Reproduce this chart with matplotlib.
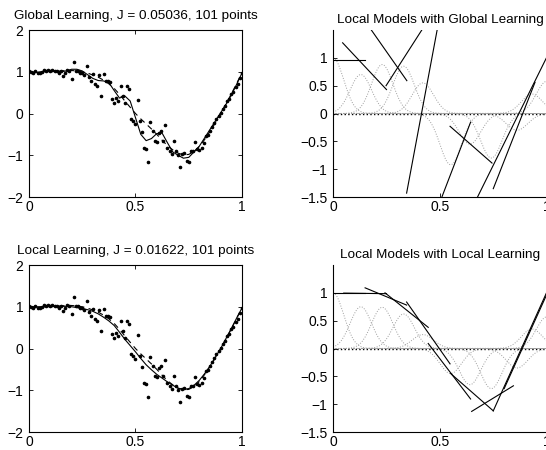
import numpy as np
import matplotlib
matplotlib.use('Agg')
import matplotlib.pyplot as plt

plt.rcParams['font.family'] = ['Liberation Sans', 'DejaVu Sans']

# noisy training data, 101 points on [0, 1]
x_pts = np.linspace(0.0, 1.0, 101)
y_pts = [1.02, 0.99, 0.97, 1.03, 0.97, 0.98, 1.00, 1.04, 1.03, 1.05,
         1.02, 1.04, 1.01, 1.03, 0.98, 1.02, 0.91, 0.97, 1.05, 1.03,
         0.83, 1.24, 1.03, 1.01, 0.96, 0.97, 0.93, 1.13, 0.87, 0.79,
         0.95, 0.70, 0.67, 0.93, 0.43, 0.95, 0.78, 0.79, 0.75, 0.35,
         0.25, 0.36, 0.31, 0.65, 0.43, 0.25, 0.67, 0.59, -0.13, -0.17,
         -0.26, 0.33, -0.17, -0.45, -0.83, -0.85, -1.17, -0.21, -0.41, -0.65,
         -0.69, -0.47, -0.41, -0.65, -0.27, -0.82, -0.89, -0.98, -0.66, -0.90,
         -1.00, -1.28, -0.98, -0.95, -1.13, -1.16, -0.90, -0.89, -0.69, -0.85,
         -0.88, -0.83, -0.70, -0.55, -0.52, -0.42, -0.33, -0.22, -0.14, -0.06,
         0.02, 0.10, 0.18, 0.29, 0.35, 0.46, 0.52, 0.63, 0.71, 0.84,
         0.97]

# curves sampled every 0.025
x_curve = np.linspace(0.0, 1.0, 41)
y_true = [1.00, 0.99, 0.99, 1.00, 1.00, 1.01, 1.02, 1.03, 1.03, 1.02,
          1.00, 0.97, 0.92, 0.87, 0.80, 0.71, 0.60, 0.46, 0.30, 0.15,
          0.00, -0.13, -0.25, -0.37, -0.50, -0.64, -0.77, -0.87, -0.95, -0.99,
          -0.98, -0.91, -0.79, -0.62, -0.43, -0.22, 0.00, 0.23, 0.47, 0.72,
          0.98]
y_global = [1.00, 0.99, 0.99, 1.01, 1.03, 1.02, 1.00, 1.02, 1.06, 1.06,
            1.02, 0.93, 0.84, 0.79, 0.78, 0.74, 0.55, 0.37, 0.42, 0.30,
            -0.10, -0.50, -0.65, -0.60, -0.48, -0.47, -0.70, -0.92, -1.00, -1.07,
            -1.05, -0.92, -0.78, -0.58, -0.38, -0.18, 0.02, 0.22, 0.44, 0.70,
            0.97]
y_local = [1.00, 1.00, 1.00, 1.00, 1.01, 1.01, 1.01, 1.01, 1.00, 0.98,
           0.96, 0.93, 0.89, 0.83, 0.75, 0.66, 0.55, 0.39, 0.22, 0.07,
           -0.08, -0.24, -0.39, -0.51, -0.62, -0.71, -0.80, -0.88, -0.95, -0.98,
           -0.96, -0.88, -0.76, -0.60, -0.42, -0.21, 0.00, 0.24, 0.48, 0.73,
           0.97]

# receptive fields: centres and heights of the dotted bumps
rf_width = 0.05
rf_centers = [0.0, 0.13, 0.23, 0.33, 0.42, 0.55, 0.64, 0.74, 0.86, 0.93, 1.0]
rf_height_global = [1.0, 0.70, 0.88, 0.85, 0.55, -0.92, -0.55, -0.80, -0.30, 0.35, 0.58]
rf_height_local = [1.0, 0.75, 0.74, 0.62, 0.25, -0.45, -0.65, -0.72, -0.35, 0.35, 0.57]

# local linear models, (x0, y0, x1, y1)
seg_global = [(0.0, 0.97, 0.15, 0.97),
              (0.045, 1.27, 0.25, 0.43),
              (0.15, 1.66, 0.345, 0.59),
              (0.248, 0.50, 0.45, 1.71),
              (0.344, -1.43, 0.545, 2.70),
              (0.445, -2.14, 0.643, -0.156),
              (0.547, -0.23, 0.743, -0.89),
              (0.66, -1.62, 1.0, 1.02),
              (0.749, -1.35, 0.944, 0.56)]
seg_local = [(0.0, 1.0, 0.15, 1.0),
             (0.05, 0.995, 0.25, 0.985),
             (0.15, 1.09, 0.344, 0.78),
             (0.243, 1.0, 0.445, 0.38),
             (0.344, 0.835, 0.547, -0.276),
             (0.445, 0.09, 0.643, -0.907),
             (0.55, -0.45, 0.749, -1.12),
             (0.648, -1.13, 0.843, -0.67),
             (0.749, -1.12, 1.0, 1.02),
             (0.80, -0.72, 1.0, 0.98)]

fig = plt.figure(figsize=(5.46, 4.5), dpi=100)

def data_panel(rect, fit, title):
    ax = fig.add_axes(rect)
    ax.plot(x_pts, y_pts, 'k.', ms=3.2)
    ax.plot(x_curve, fit, 'k-', lw=0.8)
    ax.plot(x_curve, y_true, 'k--', lw=0.8, dashes=(5, 4))
    ax.set_xlim(0, 1)
    ax.set_ylim(-2, 2)
    ax.set_xticks([0, 0.5, 1])
    ax.set_xticklabels(['0', '0.5', '1'])
    ax.set_yticks([-2, -1, 0, 1, 2])
    ax.set_yticklabels(['\u22122', '\u22121', '0', '1', '2'])
    ax.tick_params(direction='in', top=True, right=True, length=3,
                   width=0.6, labelsize=10)
    ax.tick_params(axis='x', pad=2)
    ax.tick_params(axis='y', pad=4)
    for s in ax.spines.values():
        s.set_linewidth(0.8)
    ax.set_title(title, fontsize=9.7, pad=8)
    return ax

def model_panel(rect, heights, segs, title):
    ax = fig.add_axes(rect)
    xg = np.linspace(0, 1, 201)
    ax.plot([0, 1], [0, 0], 'k:', lw=1.0)
    for c, h in zip(rf_centers, heights):
        ax.plot(xg, h * np.exp(-(xg - c) ** 2 / (2 * rf_width ** 2)),
                ':', color='0.62', lw=0.7)
    for x0, y0, x1, y1 in segs:
        ax.plot([x0, x1], [y0, y1], 'k-', lw=0.8)
    ax.set_xlim(0, 1)
    ax.set_ylim(-1.5, 1.5)
    ax.set_xticks([0, 0.5, 1])
    ax.set_xticklabels(['0', '0.5', '1'])
    ax.set_yticks([-1.5, -1, -0.5, 0, 0.5, 1])
    ax.set_yticklabels(['\u22121.5', '\u22121', '\u22120.5', '0', '0.5', '1'])
    ax.tick_params(direction='in', length=3, width=0.6, labelsize=10)
    ax.tick_params(axis='x', pad=2)
    ax.tick_params(axis='y', pad=4)
    ax.spines['top'].set_visible(False)
    for s in ax.spines.values():
        s.set_linewidth(0.8)
    ax.set_title(title, fontsize=9.7, pad=5)
    return ax

data_panel([0.0531, 0.5622, 0.3901, 0.3711], y_global,
           'Global Learning, J = 0.05036, 101 points')
data_panel([0.0531, 0.04, 0.3901, 0.3711], y_local,
           'Local Learning, J = 0.01622, 101 points')
model_panel([0.6099, 0.5622, 0.3919, 0.3711], rf_height_global, seg_global,
            'Local Models with Global Learning')
model_panel([0.6099, 0.04, 0.3919, 0.3711], rf_height_local, seg_local,
            'Local Models with Local Learning')

plt.savefig('out.png', dpi=100)
